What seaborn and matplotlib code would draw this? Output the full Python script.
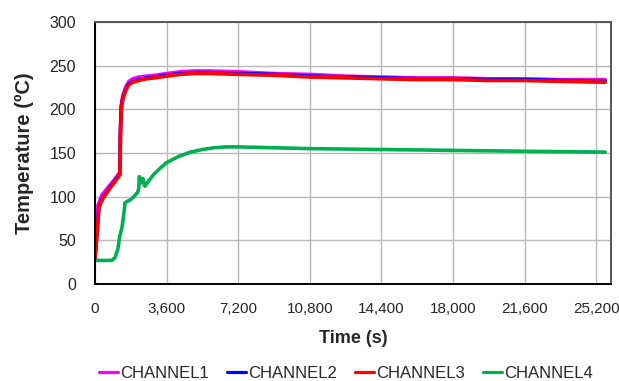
import numpy as np
import pandas as pd
import matplotlib
matplotlib.use("Agg")
import matplotlib.pyplot as plt
from matplotlib.ticker import MultipleLocator, FuncFormatter
from matplotlib.lines import Line2D
import seaborn as sns

# Thermocouple readings (time in seconds, temperature in degC)
t_ch1 = [0, 50, 150, 350, 700, 1000, 1250, 1270, 1320, 1400, 1550, 1700, 1900, 2200,
         2600, 3000, 3600, 4300, 5000, 5800, 7200, 9000, 10800, 12600, 14400, 16200,
         18000, 19800, 21600, 23400, 25650]
ch1 = [28, 50, 90, 102, 112, 120, 128, 175, 205, 216, 226, 232, 235, 237,
       238, 239, 241, 243, 244, 244, 243, 241, 240, 238, 237, 236,
       236, 235, 235, 234, 234]

t_ch2 = [0, 60, 200, 400, 700, 1000, 1250, 1280, 1320, 1400, 1550, 1700, 1900, 2200,
         2600, 3000, 3600, 4300, 5000, 5800, 7200, 9000, 10800, 12600, 14400, 16200,
         18000, 19800, 21600, 23400, 25650]
ch2 = [30, 47, 89, 99, 109, 118, 126, 172, 202, 213, 223, 229, 232, 234,
       236, 237, 239, 241, 242, 242, 241, 240, 238, 237, 236, 235,
       235, 234, 234, 233, 232.5]

t_ch3 = [0, 60, 200, 400, 700, 1000, 1250, 1280, 1320, 1400, 1550, 1700, 1900, 2200,
         2600, 3000, 3600, 4300, 5000, 5800, 7200, 9000, 10800, 12600, 14400, 16200,
         18000, 19800, 21600, 23400, 25650]
ch3 = [30, 45, 88, 98, 108, 117, 125, 170, 200, 212, 222, 228, 231, 233,
       235, 236, 238, 240, 241, 241, 240, 239, 237, 236, 235, 234,
       234, 233, 233, 232, 231]

t_ch4 = [0, 500, 850, 1000, 1150, 1250, 1360, 1450, 1510, 1650, 1760, 1950, 2150, 2200,
         2230, 2270, 2313, 2380, 2430, 2480, 2514, 2700, 2933, 3250, 3600, 4200, 4800,
         5400, 6000, 6600, 7200, 9000, 10800, 14400, 18000, 21600, 25650]
ch4 = [27, 27, 27, 30, 40, 55, 65, 80, 93, 95, 96, 100, 105, 110,
       123, 118, 116, 121, 120, 113, 112, 118, 125, 132, 139, 146, 151,
       154, 156, 157, 157, 156, 155, 154, 153, 152, 151]

channels = ["CHANNEL1", "CHANNEL2", "CHANNEL3", "CHANNEL4"]
colors = ["#ff00ff", "#0000ff", "#ff0000", "#00b050"]

frames = []
for name, t, v in zip(channels, [t_ch1, t_ch2, t_ch3, t_ch4], [ch1, ch2, ch3, ch4]):
    frames.append(pd.DataFrame({"Time": t, "Temp": v, "Channel": name}))
df = pd.concat(frames, ignore_index=True)

sns.set_style("white")
plt.rcParams["font.family"] = ["Liberation Sans", "DejaVu Sans"]

fig = plt.figure(figsize=(6.19, 3.81), dpi=100)
ax = fig.add_axes([95 / 619, 1 - 284 / 381, (611 - 95) / 619, (284 - 22) / 381])

sns.lineplot(data=df, x="Time", y="Temp", hue="Channel", hue_order=channels,
             palette=dict(zip(channels, colors)), linewidth=2.6, sort=False,
             estimator=None, legend=False, ax=ax)

ax.set_xlim(0, 25944)
ax.set_ylim(0, 300)
ax.xaxis.set_major_locator(MultipleLocator(3600))
ax.xaxis.set_minor_locator(MultipleLocator(1800))
ax.yaxis.set_major_locator(MultipleLocator(50))
ax.yaxis.set_minor_locator(MultipleLocator(10))
ax.xaxis.set_major_formatter(FuncFormatter(lambda v, p: f"{int(v):,}"))

ax.grid(True, which="major", color="#b8b8b8", linewidth=1.0)
ax.set_axisbelow(True)
ax.tick_params(axis="both", which="major", direction="out", length=5, width=1.2,
               color="black")
ax.tick_params(axis="both", which="minor", direction="out", length=4, width=1.0,
               color="black")
ax.tick_params(axis="x", which="major", labelsize=11, pad=8)
ax.tick_params(axis="y", which="major", labelsize=11.5, pad=8.5)

for side in ["left", "bottom"]:
    ax.spines[side].set_color("black")
    ax.spines[side].set_linewidth(1.4)
for side in ["top", "right"]:
    ax.spines[side].set_color("#555555")
    ax.spines[side].set_linewidth(1.4)

ax.set_xlabel("Time (s)", fontsize=13, fontweight="bold", labelpad=10)
ax.set_ylabel("Temperature (\u00baC)", fontsize=14.5, fontweight="bold", labelpad=11)

handles = [Line2D([0], [0], color=c, linewidth=2.3) for c in colors]
fig.legend(handles, channels, loc="center", bbox_to_anchor=(346 / 619, 1 - 373 / 381),
           ncol=4, frameon=False, fontsize=12, handlelength=1.15, handletextpad=0.1,
           columnspacing=1.1)

fig.savefig("out.png", dpi=100)
